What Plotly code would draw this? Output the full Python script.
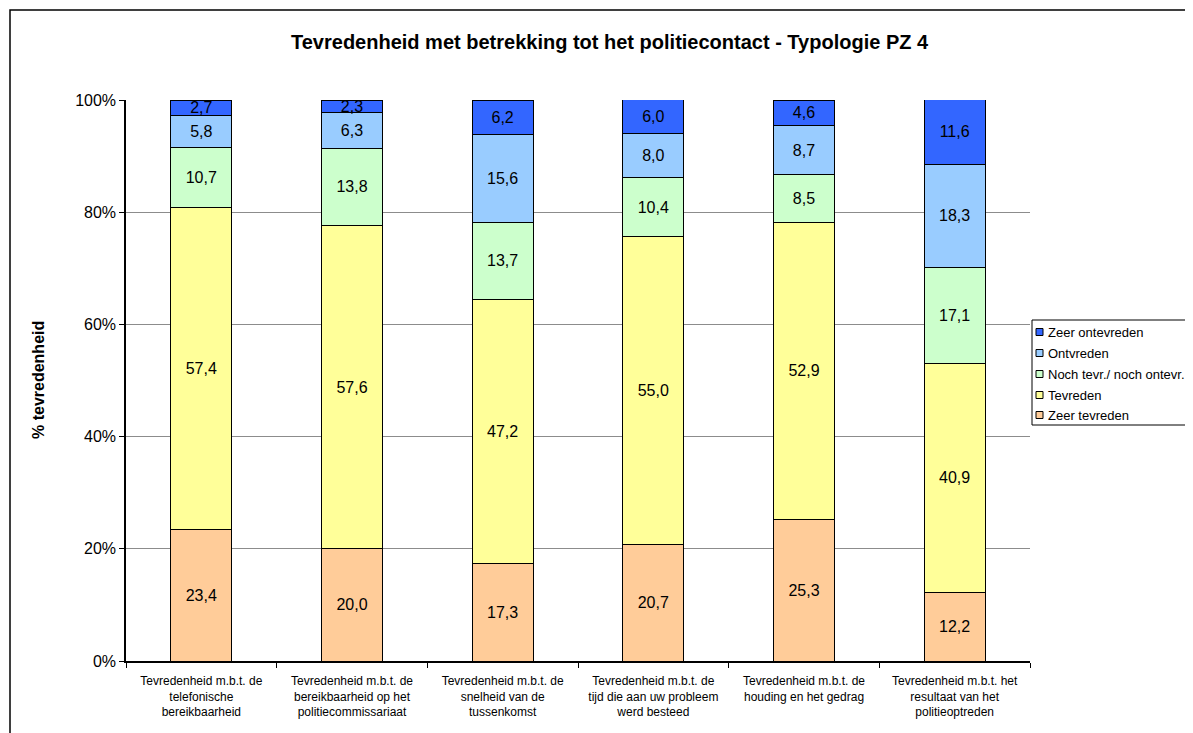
import plotly.graph_objects as go

categories = [
    "Tevredenheid m.b.t. de<br>telefonische<br>bereikbaarheid",
    "Tevredenheid m.b.t. de<br>bereikbaarheid op het<br>politiecommissariaat",
    "Tevredenheid m.b.t. de<br>snelheid van de<br>tussenkomst",
    "Tevredenheid m.b.t. de<br>tijd die aan uw probleem<br>werd besteed",
    "Tevredenheid m.b.t. de<br>houding en het gedrag",
    "Tevredenheid m.b.t. het<br>resultaat van het<br>politieoptreden",
]
zeer_tevreden = [23.4, 20.0, 17.3, 20.7, 25.3, 12.2]
tevreden = [57.4, 57.6, 47.2, 55.0, 52.9, 40.9]
noch = [10.7, 13.8, 13.7, 10.4, 8.5, 17.1]
ontevreden = [5.8, 6.3, 15.6, 8.0, 8.7, 18.3]
zeer_ontevreden = [2.7, 2.3, 6.2, 6.0, 4.6, 11.6]

y_ticks = [0, 20, 40, 60, 80, 100]
y_ticktext = ["0%", "20%", "40%", "60%", "80%", "100%"]

series = [
    ("Zeer tevreden", zeer_tevreden, "#FFCC99"),
    ("Tevreden", tevreden, "#FFFF99"),
    ("Noch tevr./ noch ontevr.", noch, "#CCFFCC"),
    ("Ontvreden", ontevreden, "#99CCFF"),
    ("Zeer ontevreden", zeer_ontevreden, "#3366FF"),
]

FONT = "Liberation Sans, Arial, sans-serif"

fig = go.Figure()
for name, vals, color in series:
    fig.add_trace(go.Bar(
        name=name, x=categories, y=vals, showlegend=False,
        marker=dict(color=color, line=dict(color="black", width=1)),
        texttemplate="%{y:.1f}", textposition="inside",
        insidetextanchor="middle", constraintext="none",
        textfont=dict(family=FONT, size=16, color="black"),
    ))

# page offset (body margin) and page-pixel layout of the reference
OX = 8
W, H = 1193 - OX, 733 - OX
L, R, T, B = 126, 1030, 100, 661  # plot area in page pixels
pw, ph = R - L, B - T

def px_x(p):
    return (p - L) / pw

def px_y(p):
    return (B - p) / ph

annotations = [
    dict(text="<b>Tevredenheid met betrekking tot het politiecontact - Typologie PZ 4</b>",
         xref="paper", yref="paper", x=px_x(610), y=px_y(42),
         xanchor="center", yanchor="middle", showarrow=False,
         font=dict(family=FONT, size=20, color="black")),
    dict(text="<b>% tevredenheid</b>",
         xref="paper", yref="paper", x=px_x(38), y=px_y(380),
         xanchor="center", yanchor="middle", showarrow=False, textangle=-90,
         font=dict(family=FONT, size=16, color="black")),
]
shapes = [
    dict(type="rect", xref="paper", yref="paper",
         x0=px_x(10), y0=px_y(760), x1=px_x(1215), y1=px_y(10),
         line=dict(color="black", width=1.5), fillcolor="rgba(0,0,0,0)", layer="below"),
    # legend box
    dict(type="rect", xref="paper", yref="paper",
         x0=px_x(1032), y0=px_y(425), x1=px_x(1215), y1=px_y(320),
         line=dict(color="black", width=1), fillcolor="white", layer="above"),
]

legend_rows = [332, 353, 374, 395, 415]
for (name, vals, color), yc in zip(reversed(series), legend_rows):
    shapes.append(dict(type="rect", xref="paper", yref="paper",
                       x0=px_x(1036), x1=px_x(1043), y0=px_y(yc + 3.5), y1=px_y(yc - 3.5),
                       line=dict(color="black", width=1), fillcolor=color, layer="above"))
    annotations.append(dict(text=name, xref="paper", yref="paper",
                            x=px_x(1046), y=px_y(yc), xanchor="left", yanchor="middle",
                            showarrow=False,
                            font=dict(family=FONT, size=13, color="black")))

fig.update_layout(
    width=W, height=H,
    barmode="stack", bargap=0.595,
    separators=",.",
    paper_bgcolor="white", plot_bgcolor="white",
    margin=dict(l=L - OX, r=W - (R - OX), t=T - OX, b=H - (B - OX), autoexpand=False),
    font=dict(family=FONT, size=12, color="black"),
    uniformtext=dict(minsize=16, mode="show"),
    showlegend=False,
    annotations=annotations,
    shapes=shapes,
)
fig.update_yaxes(
    range=[0, 100], tickmode="array", tickvals=y_ticks, ticktext=y_ticktext,
    showgrid=True, gridcolor="#8c8c8c", gridwidth=1,
    showline=True, linecolor="black", linewidth=1.5,
    ticks="outside", ticklen=5, tickcolor="black",
    tickfont=dict(family=FONT, size=16, color="black"), zeroline=False,
)
fig.update_xaxes(
    showline=True, linecolor="black", linewidth=1.5,
    ticks="outside", ticklen=5, tickcolor="black", tickson="boundaries",
    tickfont=dict(family=FONT, size=12, color="black"), tickangle=0,
    ticklabelstandoff=8,
)

fig.write_html("out.html")
